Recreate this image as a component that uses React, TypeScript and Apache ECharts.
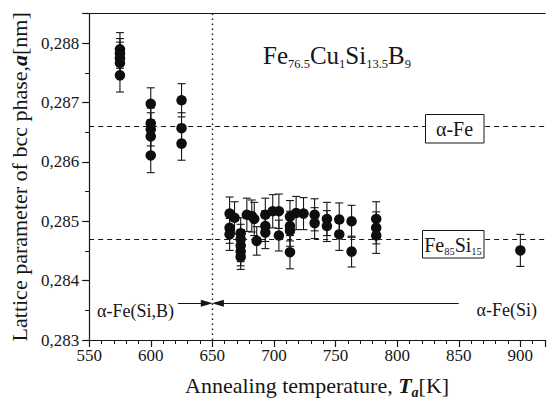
import React, { useEffect, useRef } from "react";
import * as echarts from "echarts";

const xTickLabels = [550, 600, 650, 700, 750, 800, 850, 900];
const yTickLabels = ["0,283", "0,284", "0,285", "0,286", "0,287", "0,288"];

// Annealing temperature (K), lattice parameter (nm), error (nm)
const temperatureK = [
  575, 575, 575, 575, 575,
  600, 600, 600, 600, 600,
  625, 625, 625,
  664, 664, 664,
  668,
  673, 673, 673, 673, 673,
  678, 682, 684, 686,
  693, 693, 693,
  699,
  704, 704,
  713, 713, 713, 713,
  718, 724,
  733, 733,
  743, 743,
  753, 753,
  763, 763,
  783, 783, 783,
  900,
];
const latticeNm = [
  0.2879, 0.28783, 0.28775, 0.28767, 0.28746,
  0.28698, 0.28665, 0.28655, 0.28643, 0.28611,
  0.28704, 0.28657, 0.28631,
  0.28513, 0.28489, 0.28478,
  0.28506,
  0.2848, 0.2847, 0.28459, 0.28449, 0.2844,
  0.28511, 0.28509, 0.28504, 0.28467,
  0.28511, 0.28492, 0.28481,
  0.28517,
  0.28517, 0.28476,
  0.28508, 0.28492, 0.28484, 0.28448,
  0.28514, 0.28513,
  0.28511, 0.28497,
  0.28504, 0.28492,
  0.28503, 0.28478,
  0.285, 0.28449,
  0.28504, 0.28489, 0.28476,
  0.28451,
];
const errorNm = [
  0.00028, 0.00025, 0.00027, 0.00026, 0.00028,
  0.00027, 0.00026, 0.00028, 0.00027, 0.00029,
  0.00028, 0.00026, 0.00028,
  0.00028, 0.00026, 0.00027,
  0.00027,
  0.00026, 0.00025, 0.00027, 0.00024, 0.00021,
  0.00028, 0.00027, 0.00028, 0.00024,
  0.00028, 0.00026, 0.00027,
  0.00028,
  0.00029, 0.00026,
  0.00027, 0.00025, 0.00026, 0.00028,
  0.00028, 0.00027,
  0.00027, 0.00026,
  0.00028, 0.00026,
  0.00028, 0.00027,
  0.00027, 0.00026,
  0.00029, 0.00027, 0.0003,
  0.00027,
];

const alphaFeLevel = 0.2866;
const fe85Si15Level = 0.2847;
const boundaryK = 650;
const xStartK = 550;
const xEndK = 920;
const arrowLevel = 0.28362;
const leftArrowStartK = 622;
const leftArrowTipK = 645.5;
const rightArrowTipK = 654.5;
const rightArrowEndK = 850;

const FONT = "Liberation Serif";
const INK = "#161616";

export default function App() {
  const ref = useRef<HTMLDivElement>(null);

  useEffect(() => {
    if (!ref.current) return;
    const chart = echarts.init(ref.current, undefined, { renderer: "svg" });

    const xBase = {
      type: "value" as const,
      min: xStartK,
      max: xEndK,
      splitLine: { show: false },
    };
    const yBase = {
      type: "value" as const,
      min: 0.283,
      max: 0.2885,
      splitLine: { show: false },
    };

    const yLabel = (v: number) => {
      const k = (v - 0.283) * 1000;
      const r = Math.round(k);
      if (Math.abs(k - r) > 1e-6) return "";
      return yTickLabels[r] ?? "";
    };
    const xLabel = (v: number) => {
      const idx = xTickLabels.indexOf(Math.round(v));
      if (Math.abs(v - Math.round(v)) > 1e-6 || idx < 0) return "";
      return String(xTickLabels[idx]);
    };

    const points = temperatureK.map((t, i) => [t, latticeNm[i]]);
    const bars = temperatureK.map((t, i) => [t, latticeNm[i], errorNm[i]]);

    const dashed = { color: INK, width: 1, type: [5, 4] as any };

    chart.setOption({
      animation: false,
      backgroundColor: "#ffffff",
      textStyle: { fontFamily: FONT },
      grid: { left: 88.5, right: -4.5, top: 13.65, bottom: 56.5 },
      xAxis: [
        {
          ...xBase,
          position: "bottom",
          interval: 50,
          axisLine: { show: true, lineStyle: { color: INK, width: 1.2 } },
          axisTick: { show: true, length: 7, lineStyle: { color: INK, width: 1.2 } },
          axisLabel: {
            formatter: xLabel,
            fontFamily: FONT,
            fontSize: 17,
            color: INK,
            margin: 7,
          },
          name: "{n|Annealing temperature, }{b|T}{s|a}{n|[K]}",
          nameLocation: "middle",
          nameGap: 31,
          nameTextStyle: {
            fontFamily: FONT,
            color: INK,
            rich: {
              n: { fontFamily: FONT, fontSize: 22, color: INK, lineHeight: 28 },
              b: { fontFamily: FONT, fontSize: 22, color: INK, fontWeight: "bold", fontStyle: "italic", lineHeight: 28 },
              s: { fontFamily: FONT, fontSize: 14, color: INK, fontWeight: "bold", fontStyle: "italic", lineHeight: 10, verticalAlign: "bottom" },
            },
          },
        },
        {
          ...xBase,
          position: "bottom",
          interval: 10,
          axisLine: { show: false },
          axisTick: { show: true, length: 4, lineStyle: { color: INK, width: 1 } },
          axisLabel: { show: false },
        },
        {
          ...xBase,
          position: "top",
          interval: 50,
          axisLine: { show: true, lineStyle: { color: INK, width: 1.2 } },
          axisTick: { show: false },
          axisLabel: { show: false },
        },
      ],
      yAxis: [
        {
          ...yBase,
          position: "left",
          interval: 0.001,
          axisLine: { show: true, lineStyle: { color: INK, width: 1.2 } },
          axisTick: { show: true, length: 7, lineStyle: { color: INK, width: 1.2 } },
          axisLabel: {
            formatter: yLabel,
            fontFamily: FONT,
            fontSize: 17,
            color: INK,
            margin: 10,
          },
          name: "{n|Lattice parameter of bcc phase,}{b|a}{n|[nm]}",
          nameLocation: "middle",
          nameRotate: 90,
          nameGap: 47,
          nameTextStyle: {
            fontFamily: FONT,
            color: INK,
            rich: {
              n: { fontFamily: FONT, fontSize: 22, color: INK, lineHeight: 26 },
              b: { fontFamily: FONT, fontSize: 22, color: INK, fontWeight: "bold", fontStyle: "italic", lineHeight: 26 },
            },
          },
        },
        {
          ...yBase,
          position: "left",
          interval: 0.0005,
          axisLine: { show: false },
          axisTick: { show: true, length: 4, lineStyle: { color: INK, width: 1 } },
          axisLabel: { show: false },
        },
      ],
      series: [
        {
          type: "custom",
          xAxisIndex: 0,
          yAxisIndex: 0,
          data: bars,
          encode: { x: 0, y: 1 },
          silent: true,
          z: 2,
          renderItem: (_params: any, api: any) => {
            const t = api.value(0);
            const a = api.value(1);
            const e = api.value(2);
            const hi = api.coord([t, a + e]);
            const lo = api.coord([t, a - e]);
            const cap = 4;
            const style = { stroke: INK, lineWidth: 1.1, fill: "none" };
            return {
              type: "group",
              children: [
                { type: "line", shape: { x1: hi[0], y1: hi[1], x2: lo[0], y2: lo[1] }, style },
                { type: "line", shape: { x1: hi[0] - cap, y1: hi[1], x2: hi[0] + cap, y2: hi[1] }, style },
                { type: "line", shape: { x1: lo[0] - cap, y1: lo[1], x2: lo[0] + cap, y2: lo[1] }, style },
              ],
            };
          },
        },
        {
          type: "scatter",
          xAxisIndex: 0,
          yAxisIndex: 0,
          data: points,
          symbol: "circle",
          symbolSize: 10.5,
          itemStyle: { color: "#0e0e0e", opacity: 1 },
          silent: true,
          z: 3,
          markLine: {
            silent: true,
            animation: false,
            symbol: ["none", "none"],
            label: { show: false },
            emphasis: { disabled: true },
            lineStyle: { color: INK, width: 1, type: "solid" },
            itemStyle: { color: INK },
            data: [
              [
                { coord: [xStartK, alphaFeLevel], lineStyle: dashed },
                { coord: [xEndK, alphaFeLevel] },
              ],
              [
                { coord: [xStartK, fe85Si15Level], lineStyle: dashed },
                { coord: [xEndK, fe85Si15Level] },
              ],
              { xAxis: boundaryK, lineStyle: { color: INK, width: 1.4, type: [1.4, 3.6] } },
              [
                { coord: [leftArrowStartK, arrowLevel], symbol: "none" },
                { coord: [leftArrowTipK, arrowLevel], symbol: "triangle", symbolSize: [7, 12] },
              ],
              [
                { coord: [rightArrowTipK, arrowLevel], symbol: "triangle", symbolSize: [7, 12] },
                { coord: [rightArrowEndK, arrowLevel], symbol: "none" },
              ],
            ],
          },
        },
      ],
      graphic: [
        {
          type: "text",
          x: 263,
          y: 40,
          z: 100,
          style: {
            text: "{m|Fe}{s|76.5}{m|Cu}{s|1}{m|Si}{s|13.5}{m|B}{s|9}",
            fill: INK,
            rich: {
              m: { fontFamily: FONT, fontSize: 25, fill: INK, lineHeight: 30 },
              s: { fontFamily: FONT, fontSize: 12.5, fill: INK, lineHeight: 11, verticalAlign: "bottom" },
            },
          },
        },
        {
          type: "rect",
          z: 100,
          shape: { x: 425.5, y: 114.5, width: 58.5, height: 28.5 },
          style: { fill: "#ffffff", stroke: INK, lineWidth: 1 },
        },
        {
          type: "text",
          z: 101,
          x: 454.5,
          y: 129,
          style: {
            text: "α-Fe",
            fill: INK,
            font: `20px ${FONT}`,
            align: "center",
            verticalAlign: "middle",
          },
        },
        {
          type: "rect",
          z: 100,
          shape: { x: 422.5, y: 230.5, width: 61.5, height: 27.5 },
          style: { fill: "#ffffff", stroke: INK, lineWidth: 1 },
        },
        {
          type: "text",
          z: 101,
          x: 453,
          y: 245,
          style: {
            text: "{m|Fe}{s|85}{m|Si}{s|15}",
            fill: INK,
            align: "center",
            verticalAlign: "middle",
            rich: {
              m: { fontFamily: FONT, fontSize: 20, fill: INK, lineHeight: 24 },
              s: { fontFamily: FONT, fontSize: 10.5, fill: INK, lineHeight: 9, verticalAlign: "bottom" },
            },
          },
        },
        {
          type: "text",
          z: 101,
          x: 97,
          y: 310.5,
          style: {
            text: "α-Fe(Si,B)",
            fill: INK,
            font: `18px ${FONT}`,
            align: "left",
            verticalAlign: "middle",
          },
        },
        {
          type: "text",
          z: 101,
          x: 476.5,
          y: 309.5,
          style: {
            text: "α-Fe(Si)",
            fill: INK,
            font: `18px ${FONT}`,
            align: "left",
            verticalAlign: "middle",
          },
        },
      ],
    });

    return () => chart.dispose();
  }, []);

  return <div ref={ref} style={{ width: 548, height: 404, position: "absolute", left: 0, top: 0 }} />;
}
